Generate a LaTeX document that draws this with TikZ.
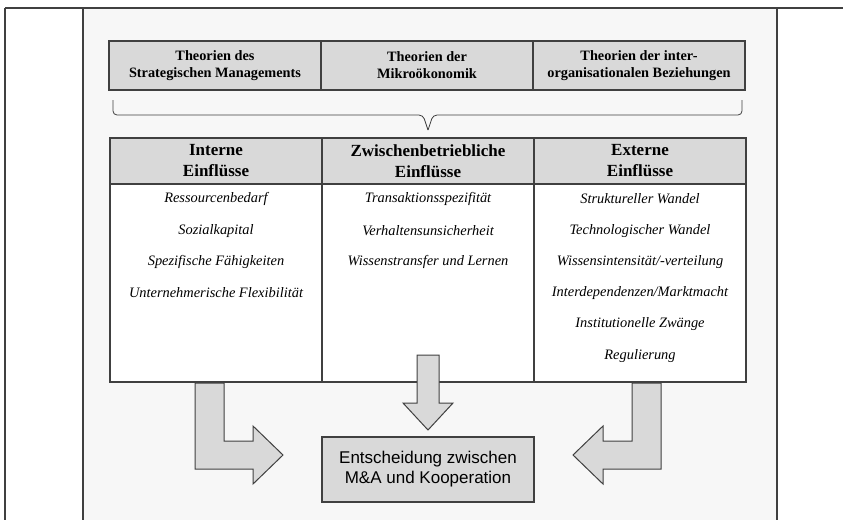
\documentclass[tikz,border=0pt]{standalone}
\usepackage{fontspec}
\setmainfont{Liberation Serif}
\newfontfamily\arialfont{Liberation Sans}
\usetikzlibrary{positioning,calc}
\definecolor{boxgray}{HTML}{D9D9D9}
\definecolor{panelgray}{HTML}{F7F7F7}
\definecolor{linegray}{HTML}{404040}

\begin{document}
\begin{tikzpicture}[x=1pt, y=-1pt,
        theory/.style={draw=linegray, line width=1.6pt, fill=boxgray, minimum width=212pt, minimum height=49pt, align=center, inner sep=0pt, outer sep=0pt, font=\bfseries\fontsize{14.3}{17}\selectfont},
        head/.style={draw=linegray, line width=1.2pt, fill=boxgray, minimum width=212pt, minimum height=46pt, align=center, inner sep=0pt, outer sep=0pt, font=\bfseries\fontsize{17}{21}\selectfont},
        body/.style={draw=linegray, line width=1.2pt, fill=white, minimum width=212pt, minimum height=198pt, inner sep=0pt, outer sep=0pt},
        item/.style={font=\itshape\fontsize{14.4}{17}\selectfont},
        blockarrow/.style={draw=linegray, line width=1pt, fill=boxgray},
        decision/.style={draw=linegray, line width=1.2pt, fill=boxgray, minimum width=212pt, minimum height=65pt, align=center, inner sep=0pt, font=\arialfont\fontsize{17}{20}\selectfont}
    ]
        \useasboundingbox (0,0) rectangle (843,520);

        % Frame and panel
        \fill[panelgray] (83,8) rectangle (777,520);
        \draw[linegray, line width=1.2pt] (83,8) -- (83,520);
        \draw[linegray, line width=1.2pt] (777,8) -- (777,520);
        \draw[linegray, line width=1.2pt] (5,8) -- (5,520);
        \draw[linegray, line width=1.6pt] (5,8) -- (843,8);

        % Theories
        \node[theory] (strat) at (215,65.5) {Theorien des\\Strategischen Managements};
        \node[theory] (mikro) at (427,65.5) {Theorien der\\Mikroökonomik};
        \node[theory] (inter) at (639,65.5) {Theorien der inter-\\organisationalen Beziehungen};

        % Brace
        \coordinate (bl) at (113,100);
        \coordinate (br) at (742,100);
        \coordinate (btip) at (428,130);
        \draw[linegray, line width=0.8pt, rounded corners=4pt] (bl) -- (113,115) -- (423,115) -- (btip);
        \draw[linegray, line width=0.8pt, rounded corners=4pt] (br) -- (742,115) -- (433,115) -- (btip);

        % Influences
        \node[head] (intern) at (216,161) {Interne\\Einflüsse};
        \node[head] (zwischen) at (428,161) {Zwischenbetriebliche\\Einflüsse};
        \node[head] (extern) at (640,161) {Externe\\Einflüsse};
        \node[body, below=0pt of intern] (internbody) {};
        \node[body, below=0pt of zwischen] (zwischenbody) {};
        \node[body, below=0pt of extern] (externbody) {};

        % Items
        \node[item] (i1) at (216,199) {Ressourcenbedarf};
        \node[item] (i2) at (216,231) {Sozialkapital};
        \node[item] (i3) at (216,262) {Spezifische Fähigkeiten};
        \node[item] (i4) at (216,293) {Unternehmerische Flexibilität};

        \node[item] (z1) at (428,199) {Transaktionsspezifität};
        \node[item] (z2) at (428,231) {Verhaltensunsicherheit};
        \node[item] (z3) at (428,262) {Wissenstransfer und Lernen};

        \node[item] (e1) at (640,199) {Struktureller Wandel};
        \node[item] (e2) at (640,231) {Technologischer Wandel};
        \node[item] (e3) at (640,262) {Wissensintensität/-verteilung};
        \node[item] (e4) at (640,293) {Interdependenzen/Marktmacht};
        \node[item] (e5) at (640,324) {Institutionelle Zwänge};
        \node[item] (e6) at (640,356) {Regulierung};

        % Decision
        \node[decision] (decision) at (428,469.5) {Entscheidung zwischen\\M\&A und Kooperation};

        % Block arrows
        \draw[blockarrow] (195,383) -- (224,383) -- (224,441) -- (253,441) -- (253,426) -- (283,455) -- (253,484) -- (253,469) -- (195,469) -- cycle;
        \draw[blockarrow] (417,355) -- (439,355) -- (439,403) -- (453,403) -- (428,430) -- (403,403) -- (417,403) -- cycle;
        \draw[blockarrow] (661,383) -- (632,383) -- (632,441) -- (603,441) -- (603,426) -- (573,455) -- (603,484) -- (603,469) -- (661,469) -- cycle;
    \end{tikzpicture}
\end{document}
